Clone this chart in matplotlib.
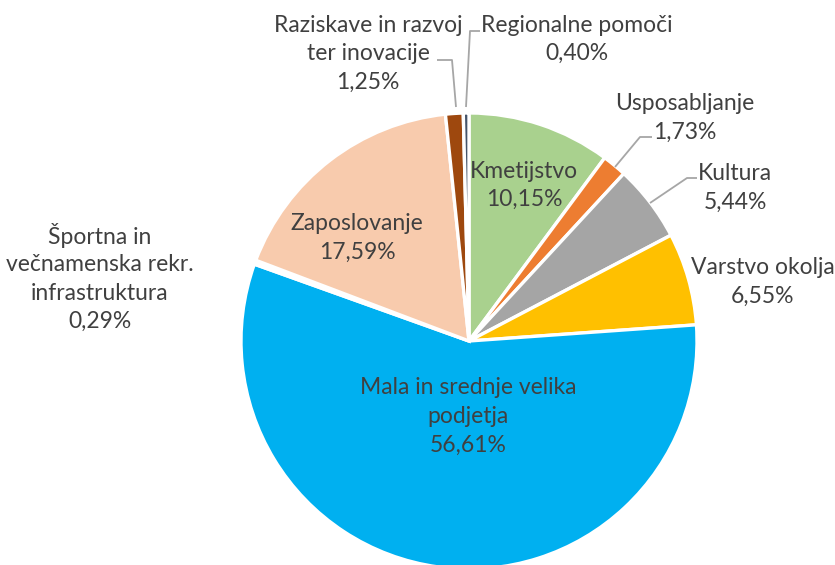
import matplotlib
matplotlib.use("Agg")
import matplotlib.pyplot as plt

# ---- data ----
categories = [
    "Kmetijstvo",
    "Usposabljanje",
    "Kultura",
    "Varstvo okolja",
    "Mala in srednje velika\npodjetja",
    "Športna in\nvečnamenska rekr.\ninfrastruktura",
    "Zaposlovanje",
    "Raziskave in razvoj\nter inovacije",
    "Regionalne pomoči",
]
values = [10.15, 1.73, 5.44, 6.55, 56.61, 0.29, 17.59, 1.25, 0.40]
value_labels = ["10,15%", "1,73%", "5,44%", "6,55%", "56,61%", "0,29%", "17,59%", "1,25%", "0,40%"]
colors = ["#A9D18E", "#ED7D31", "#A5A5A5", "#FFC000", "#00B0F0",
          "#FFFFFF", "#F8CBAD", "#9E480E", "#44546A"]

# ---- layout (pixel coordinates, y from top) ----
W, H = 835, 565
cx, cy, R = 469, 341, 228
label_pos = [  # (center x, y of first line)
    (524, 171),
    (685, 104),
    (735, 174),
    (763, 268),
    (468, 388),
    (100, 236),
    (357, 224),
    (368, 25),
    (577, 25),
]
line_pitch = 28.5
leaders = {
    1: [(652, 137), (640, 137), (615, 167)],
    2: [(697, 178), (687, 178), (650, 203)],
    7: [(437, 60), (452, 60), (456, 107)],
    8: [(480, 31), (470, 31), (466, 107)],
}

plt.rcParams['font.family'] = ['Lato', 'DejaVu Sans']
fig = plt.figure(figsize=(W / 100, H / 100), dpi=100)
ax = fig.add_axes([0, 0, 1, 1])

ax.pie(values, colors=colors, startangle=90, counterclock=False,
       center=(cx, H - cy), radius=R,
       explode=[0.016] * len(values),
       wedgeprops=dict(edgecolor="white", linewidth=2.4))

ax.set_xlim(0, W)
ax.set_ylim(0, H)
ax.set_aspect("equal")
ax.axis("off")

text_color = "#404040"
for i, (cat, val) in enumerate(zip(categories, value_labels)):
    lines = cat.split("\n") + [val]
    x, y0 = label_pos[i]
    for k, ln in enumerate(lines):
        ax.text(x, H - (y0 + k * line_pitch), ln, ha="center", va="center",
                fontsize=16.5, color=text_color)

for i, pts in leaders.items():
    xs = [p[0] for p in pts]
    ys = [H - p[1] for p in pts]
    ax.plot(xs, ys, color="#A6A6A6", linewidth=1.3, solid_capstyle="butt")

fig.savefig("out.png", dpi=100)
